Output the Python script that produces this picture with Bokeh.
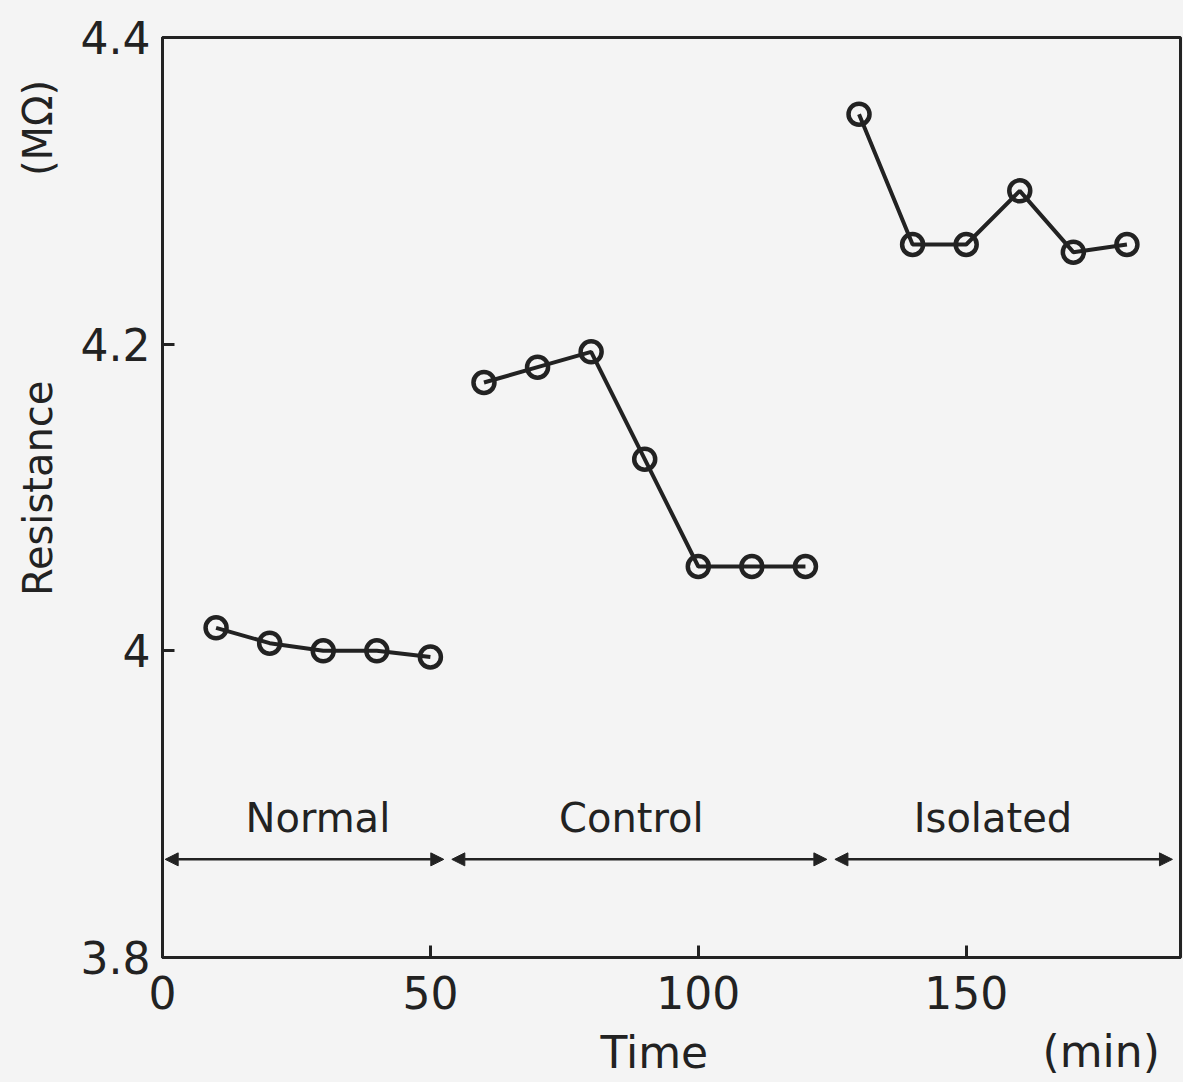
from bokeh.plotting import figure
from bokeh.models import FixedTicker, Label, Arrow, NormalHead, Range1d
from bokeh.core.properties import value
from bokeh.layouts import row, column
from bokeh.embed import file_html
from bokeh.resources import INLINE
import math

# Resistance readings (MOhm) against time (min) for the three phases
normal_time = [10, 20, 30, 40, 50]
normal_res = [4.015, 4.005, 4.0, 4.0, 3.996]

control_time = [60, 70, 80, 90, 100, 110, 120]
control_res = [4.175, 4.185, 4.195, 4.125, 4.055, 4.055, 4.055]

isolated_time = [130, 140, 150, 160, 170, 180]
isolated_res = [4.35, 4.265, 4.265, 4.30, 4.26, 4.265]

# Phase names and the time spans the double arrows cover
phase_names = ["Normal", "Control", "Isolated"]
phase_start = [0.5, 54, 125.5]
phase_end = [52.5, 124, 188.5]
phase_center = [29, 87.5, 155]

x_ticks = [0, 50, 100, 150]
y_ticks = [3.8, 4.0, 4.2, 4.4]

FONT = "DejaVu Sans"
INK = "#222222"
BG = "#f4f4f4"

x_range = Range1d(0, 190)
y_range = Range1d(3.8, 4.4)

LEFT_W = 75
MAIN_H = 1022
BOTTOM_H = 1082 - MAIN_H


def blank(**kw):
    f = figure(output_backend="svg", toolbar_location=None,
               x_axis_location=None, y_axis_location=None, min_border=0, **kw)
    f.background_fill_color = BG
    f.border_fill_color = BG
    f.outline_line_color = None
    f.grid.visible = False
    return f


# Main plot
p = figure(width=1183 - LEFT_W, height=MAIN_H, output_backend="svg", toolbar_location=None,
           x_range=x_range, y_range=y_range,
           min_border_left=162 - LEFT_W, min_border_right=3, min_border_top=37,
           min_border_bottom=MAIN_H - 957)
p.background_fill_color = BG
p.border_fill_color = BG
p.outline_line_color = INK
p.outline_line_width = 3
p.grid.visible = False

for ax in (p.xaxis[0], p.yaxis[0]):
    ax.axis_line_color = INK
    ax.axis_line_width = 3
    ax.major_tick_line_color = INK
    ax.major_tick_line_width = 3
    ax.major_tick_in = 12
    ax.major_tick_out = 0
    ax.minor_tick_line_color = None
    ax.major_label_text_font = FONT
    ax.major_label_text_color = INK
    ax.major_label_text_font_size = "44px"

p.xaxis.ticker = FixedTicker(ticks=x_ticks)
p.yaxis.ticker = FixedTicker(ticks=y_ticks)
p.yaxis.major_label_overrides = {4: "4"}
p.xaxis.major_label_standoff = 18
p.yaxis.major_label_standoff = 12

# Series lines with open circle markers
for t, r in ((normal_time, normal_res), (control_time, control_res), (isolated_time, isolated_res)):
    p.line(t, r, line_color=INK, line_width=4)
    p.scatter(t, r, marker="circle", size=21, fill_color=None, line_color=INK, line_width=4.5)

# Phase labels with double-headed arrows
arrow_y = 3.864
for name, s, e, c in zip(phase_names, phase_start, phase_end, phase_center):
    p.add_layout(Arrow(x_start=s, y_start=arrow_y, x_end=e, y_end=arrow_y,
                       line_color=INK, line_width=2.5,
                       start=NormalHead(size=13, fill_color=INK, line_color=INK),
                       end=NormalHead(size=13, fill_color=INK, line_color=INK)))
    p.add_layout(Label(x=c, y=3.891, text=name, text_align="center", text_baseline="middle",
                       text_font=FONT, text_font_size="40px", text_color=INK))

# Vertical axis title strip, sharing the resistance scale
left = blank(width=LEFT_W, height=MAIN_H, x_range=Range1d(0, 1), y_range=y_range)
left.min_border_top = 37
left.min_border_bottom = MAIN_H - 957
left.text(x=[0.5, 0.5], y=[4.106, 4.341], text=["Resistance", "(MΩ)"], angle=math.pi / 2,
          text_align="center", text_baseline="middle",
          text_font=value(FONT), text_font_size=value("40px"), text_color=INK)

# Horizontal axis title strip, sharing the time scale
bottom = blank(width=1183, height=BOTTOM_H, x_range=x_range, y_range=Range1d(0, 1))
bottom.min_border_left = 162
bottom.min_border_right = 3
bottom.text(x=[91.8, 175.2], y=[0.5, 0.52], text=["Time", "(min)"],
            text_align="center", text_baseline="middle",
            text_font=value(FONT), text_font_size=value("44px"), text_color=INK)

layout = column(row(left, p, spacing=0), bottom, spacing=0)
layout.styles = {"background-color": BG}

open("out.html", "w").write(file_html(layout, INLINE))
